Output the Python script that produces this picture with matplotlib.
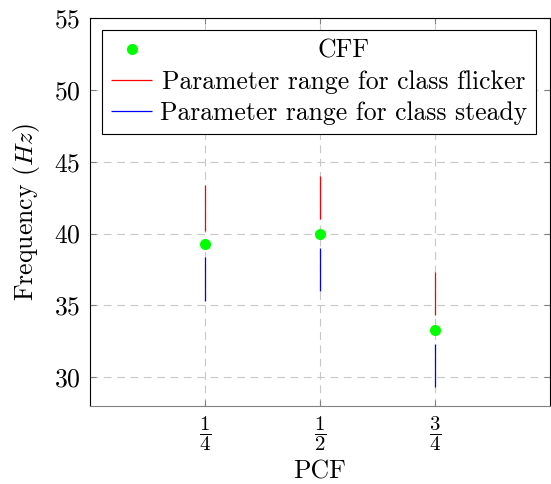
import matplotlib
matplotlib.use("Agg")
import matplotlib.pyplot as plt

plt.rcParams['font.family'] = 'cmr10'
plt.rcParams['mathtext.fontset'] = 'cm'
plt.rcParams['axes.formatter.use_mathtext'] = True
plt.rcParams['font.size'] = 18.5

# PCF positions and measured frequencies (Hz)
pcf = [0.25, 0.5, 0.75]
pcf_labels = [r'$\dfrac{1}{4}$', r'$\dfrac{1}{2}$', r'$\dfrac{3}{4}$']
cff = [39.3, 40.0, 33.3]
flicker_low = [40.2, 41.0, 34.3]
flicker_high = [43.4, 44.0, 37.3]
steady_low = [35.3, 36.0, 29.3]
steady_high = [38.4, 39.0, 32.3]

fig = plt.figure(figsize=(5.51, 4.84), dpi=100)
ax = fig.add_axes([90 / 551, 78 / 484, 460 / 551, 388 / 484])

ax.vlines(pcf, flicker_low, flicker_high, color='#ff0000', lw=0.9,
          label='Parameter range for class flicker', zorder=3)
ax.vlines(pcf, steady_low, steady_high, color='#0000ff', lw=0.9,
          label='Parameter range for class steady', zorder=3)
ax.plot(pcf, cff, 'o', color='#00ff00', ms=8, mec='none', label='CFF', zorder=4)

ax.set_xlim(0, 1)
ax.set_ylim(28, 55)
ax.set_xticks(pcf)
ax.set_xticklabels(pcf_labels, fontsize=15)
ax.set_yticks([30, 35, 40, 45, 50, 55])

ax.grid(True, color='#c8c8c8', ls=(0, (7, 5)), lw=0.8)
ax.set_axisbelow(True)
ax.tick_params(direction='in', length=4, color='#808080', top=True, right=True,
               pad=7)
ax.tick_params(axis='x', pad=6)
for side in ['left', 'top', 'right']:
    ax.spines[side].set_color('black')
ax.spines['bottom'].set_color('#808080')
for s in ax.spines.values():
    s.set_linewidth(0.8)

ax.set_xlabel('PCF', labelpad=5)
ax.set_ylabel(r'Frequency $(Hz)$', labelpad=8)

handles, labels = ax.get_legend_handles_labels()
order = [2, 0, 1]
leg = ax.legend([handles[i] for i in order], [labels[i] for i in order],
                loc='upper left', bbox_to_anchor=(0.026, 0.969),
                borderaxespad=0, fancybox=False, framealpha=1,
                edgecolor='black', handlelength=1.6, handletextpad=0.3,
                labelspacing=0.28, borderpad=0.35)
leg.get_frame().set_linewidth(0.8)

# center the legend entries in their column
fig.canvas.draw()
r = fig.canvas.get_renderer()
texts = leg.get_texts()
widths = [t.get_window_extent(r).width for t in texts]
wmax = max(widths)
for t, w in zip(texts, widths):
    t.set_position(((wmax - w) / 2, 0))

fig.savefig('out.png', dpi=100)
